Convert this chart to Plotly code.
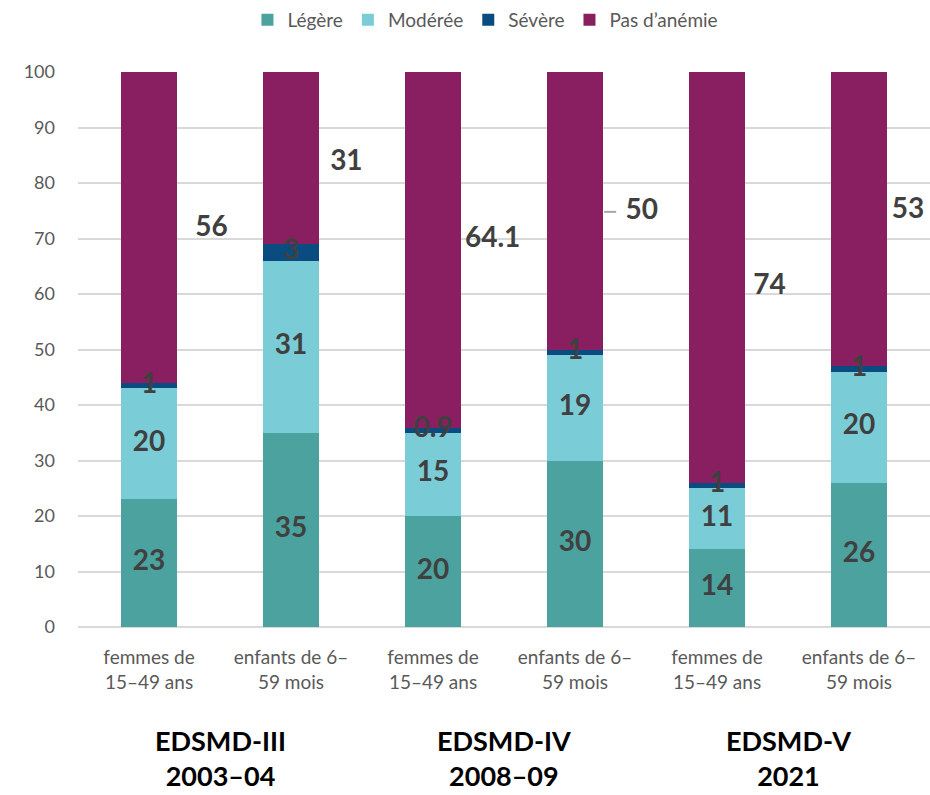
import plotly.graph_objects as go

# ---- data ----
categories = ["femmes de<br>15–49 ans", "enfants de 6–<br>59 mois",
              "femmes de<br>15–49 ans", "enfants de 6–<br>59 mois",
              "femmes de<br>15–49 ans", "enfants de 6–<br>59 mois"]
surveys = ["EDSMD-III<br>2003–04", "EDSMD-IV<br>2008–09", "EDSMD-V<br>2021"]
legere = [23, 35, 20, 30, 14, 26]
moderee = [20, 31, 15, 19, 11, 20]
severe = [1, 3, 0.9, 1, 1, 1]
pas_anemie = [56, 31, 64.1, 50, 74, 53]
severe_text = ["1", "3", "0.9", "1", "1", "1"]
pas_text = ["56", "31", "64.1", "50", "74", "53"]

# ---- label placement (styling) ----
pas_dx = [0.44, 0.39, 0.42, 0.47, 0.37, 0.345]
pas_y = [71.8, 83.6, 69.7, 74.8, 61.3, 74.9]

colors = {"Légère": "#4BA29F", "Modérée": "#7ACDD6", "Sévère": "#0B4C80", "Pas d’anémie": "#891F60"}
FONT = "Lato"
LABEL_COLOR = "#404040"

x = list(range(len(categories)))
fig = go.Figure()
series = [("Légère", legere), ("Modérée", moderee), ("Sévère", severe), ("Pas d’anémie", pas_anemie)]
for name, vals in series:
    fig.add_trace(go.Bar(x=x, y=vals, name=name, marker=dict(color=colors[name], line=dict(width=0)),
                         hoverinfo="skip"))

# segment labels
base = [0] * len(x)
lab_x, lab_y, lab_t = [], [], []
for vals, texts in [(legere, [str(v) for v in legere]), (moderee, [str(v) for v in moderee]), (severe, severe_text)]:
    for i, v in enumerate(vals):
        lab_x.append(i)
        lab_y.append(base[i] + v / 2)
        lab_t.append(texts[i])
        base[i] += v
fig.add_trace(go.Scatter(x=lab_x, y=lab_y, text=lab_t, mode="text", showlegend=False,
                         textfont=dict(family=FONT, size=28, color=LABEL_COLOR, weight="bold"),
                         textposition="middle center", hoverinfo="skip"))
fig.add_trace(go.Scatter(x=[i + d for i, d in zip(x, pas_dx)], y=pas_y, text=pas_text, mode="text",
                         showlegend=False,
                         textfont=dict(family=FONT, size=28, color=LABEL_COLOR, weight="bold"),
                         textposition="middle center", hoverinfo="skip"))

# leader line for the "50" label
fig.add_shape(type="line", xref="x", yref="y", x0=3.205, x1=3.29, y0=pas_y[3], y1=pas_y[3],
              line=dict(color="#A6A6A6", width=2))

# survey group labels
for k, s in enumerate(surveys):
    fig.add_annotation(x=2 * k + 0.5, y=-0.172, xref="x", yref="paper",
                       text="<b>" + s.replace("<br>", "</b><br><b>") + "</b>",
                       showarrow=False, yanchor="top", font=dict(family=FONT, size=27, color="#000000"),
                       align="center")

fig.update_layout(
    width=930, height=795,
    margin=dict(l=78, r=0, t=72, b=168, autoexpand=False),
    paper_bgcolor="white", plot_bgcolor="white",
    barmode="stack", bargap=0.6,
    font=dict(family=FONT, color="#595959"),
    legend=dict(orientation="h", x=0.522, xanchor="center", y=0.975, yanchor="middle",
                yref="container", xref="container",
                font=dict(family=FONT, size=19, color="#595959"), itemwidth=30,
                traceorder="normal"),
    xaxis=dict(tickmode="array", tickvals=x, ticktext=categories, range=[-0.5, 5.5],
               tickfont=dict(family=FONT, size=19, color="#595959"), showgrid=False,
               showline=False, zeroline=False, ticks="", ticklabelstandoff=17),
    yaxis=dict(range=[0, 100], dtick=10, showgrid=True, gridcolor="#D9D9D9", gridwidth=2,
               zeroline=True, zerolinecolor="#D9D9D9", zerolinewidth=2, showline=False,
               tickfont=dict(family=FONT, size=18, color="#595959"), ticklabelstandoff=22),
    showlegend=True,
)

fig.write_html("out.html")
